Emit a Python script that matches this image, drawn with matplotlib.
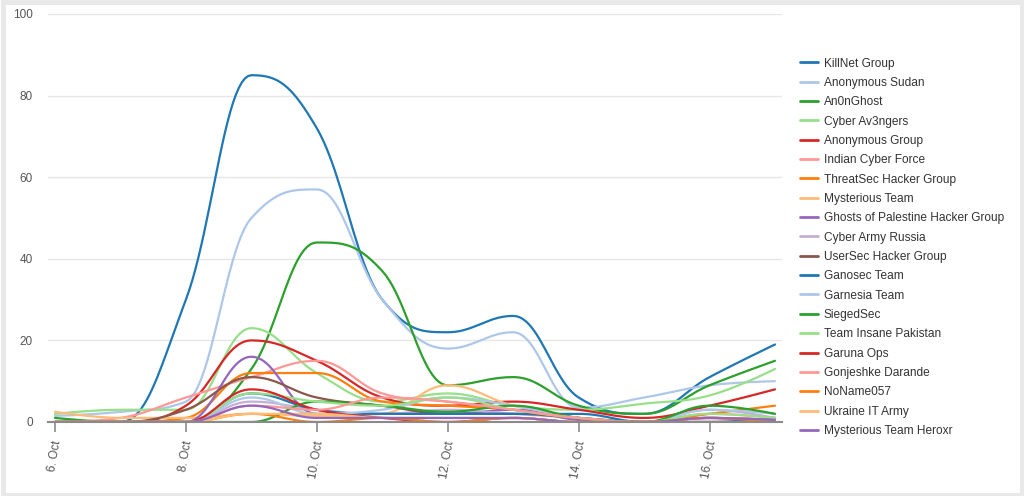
import datetime as dt

import matplotlib
matplotlib.use("Agg")
import matplotlib.dates as mdates
import matplotlib.pyplot as plt
import numpy as np
from matplotlib.patches import Rectangle

plt.rcParams["font.family"] = ["Liberation Sans", "DejaVu Sans"]

# daily counts, 6. Oct .. 17. Oct
days = [dt.datetime(2023, 10, d) for d in range(6, 18)]

groups = [
    "KillNet Group", "Anonymous Sudan", "An0nGhost", "Cyber Av3ngers",
    "Anonymous Group", "Indian Cyber Force", "ThreatSec Hacker Group",
    "Mysterious Team", "Ghosts of Palestine Hacker Group", "Cyber Army Russia",
    "UserSec Hacker Group", "Ganosec Team", "Garnesia Team", "SiegedSec",
    "Team Insane Pakistan", "Garuna Ops", "Gonjeshke Darande", "NoName057",
    "Ukraine IT Army", "Mysterious Team Heroxr",
]

killnet = [0, 0, 30, 85, 72, 30, 22, 26, 6, 2, 11, 19]
anon_sudan = [1.5, 2.5, 5, 50, 57, 30, 18, 22, 3.5, 6, 9, 10]
anonghost = [1, 0, 0, 13, 44, 37, 9, 11, 4, 2, 9, 15]
cyber_av3ngers = [2, 3, 3, 23, 12, 5, 7, 4, 3, 4.5, 6.5, 13]
anon_group = [0, 0, 4, 20, 15, 6, 4, 5, 3, 1, 4, 8]
indian_cyber = [0, 1, 6, 11, 15, 7, 5, 3, 1, 0, 2, 1]
threatsec = [0, 0, 1, 12, 12, 5, 4, 3, 1, 0, 2, 4]
mysterious = [2.5, 1, 1, 2, 1.5, 2, 9, 4, 1, 0, 1, 0.5]
ghosts_pal = [0, 0, 0, 16, 2, 2, 2, 3, 0.5, 0, 1, 0]
army_russia = [0, 0, 0, 5, 3, 2, 3, 2, 1, 0, 3, 1]
usersec = [0, 0, 3, 11, 6, 4, 2, 2, 1, 0, 1, 0.5]
ganosec = [0, 0, 0, 7, 3, 2, 2, 2, 2, 0, 0, 1]
garnesia = [0, 0, 0, 6, 2, 3, 6, 4, 1, 0, 3, 2]
siegedsec = [0, 0, 0, 0, 5, 4, 2.5, 4, 1, 0, 4, 2]
insane_pk = [0, 0, 0, 7, 5, 4, 6, 3, 1, 0, 2, 1]
garuna = [0, 0, 0, 8, 3, 1, 0, 1, 0, 0, 0, 0]
gonjeshke = [0, 0, 0, 4, 3, 6, 5, 3, 1, 0, 1, 0.5]
noname = [0, 0, 0, 2, 0, 1, 0, 1, 0, 0, 1, 0]
ukraine_it = [0, 0, 0, 2, 2, 1, 1, 1, 0, 0, 0, 0]
heroxr = [0, 0, 0, 4, 1, 1, 1, 1, 0, 0, 1, 0.5]

series = [
    killnet, anon_sudan, anonghost, cyber_av3ngers, anon_group, indian_cyber,
    threatsec, mysterious, ghosts_pal, army_russia, usersec, ganosec, garnesia,
    siegedsec, insane_pk, garuna, gonjeshke, noname, ukraine_it, heroxr,
]

palette = ["#1f77b4", "#aec7e8", "#2ca02c", "#98df8a", "#d62728", "#ff9896",
           "#ff7f0e", "#ffbb78", "#9467bd", "#c5b0d5", "#8c564b"]


def spline(xs, ys, smoothing=1.5, n=24):
    # highcharts-style spline: bezier segments with clamped control points
    xs = np.asarray(xs, dtype=float)
    ys = np.asarray(ys, dtype=float)
    m = len(xs)
    lc = [(xs[i], ys[i]) for i in range(m)]
    rc = [(xs[i], ys[i]) for i in range(m)]
    d = smoothing + 1
    for i in range(1, m - 1):
        px, py = xs[i], ys[i]
        lx, ly = xs[i - 1], ys[i - 1]
        nx, ny = xs[i + 1], ys[i + 1]
        lcx = (smoothing * px + lx) / d
        lcy = (smoothing * py + ly) / d
        rcx = (smoothing * px + nx) / d
        rcy = (smoothing * py + ny) / d
        if rcx != lcx:
            corr = (rcy - lcy) * (rcx - px) / (rcx - lcx) + py - rcy
            lcy += corr
            rcy += corr
        if lcy > ly and lcy > py:
            lcy = max(ly, py)
            rcy = 2 * py - lcy
        elif lcy < ly and lcy < py:
            lcy = min(ly, py)
            rcy = 2 * py - lcy
        if rcy > ny and rcy > py:
            rcy = max(ny, py)
            lcy = 2 * py - rcy
        elif rcy < ny and rcy < py:
            rcy = min(ny, py)
            lcy = 2 * py - rcy
        lc[i] = (lcx, lcy)
        rc[i] = (rcx, rcy)
    t = np.linspace(0, 1, n)[:, None]
    out = []
    for i in range(m - 1):
        p0 = np.array([xs[i], ys[i]])
        p1 = np.array(rc[i])
        p2 = np.array(lc[i + 1])
        p3 = np.array([xs[i + 1], ys[i + 1]])
        seg = ((1 - t) ** 3) * p0 + 3 * ((1 - t) ** 2) * t * p1 + 3 * (1 - t) * t ** 2 * p2 + t ** 3 * p3
        out.append(seg if i == 0 else seg[1:])
    pts = np.vstack(out)
    return pts[:, 0], pts[:, 1]


fig = plt.figure(figsize=(10.24, 4.96), dpi=100, facecolor="white")
# light grey frame round the chart
fig.patches.append(Rectangle((2.5 / 1024, 1.5 / 496), 1019 / 1024, 493 / 496,
                             transform=fig.transFigure, facecolor="none",
                             edgecolor="#e9e9e9", lw=3.6, zorder=-5))

ax = fig.add_axes([48 / 1024, 74 / 496, 734 / 1024, 408 / 496])
ax.set_facecolor("none")

xnum = mdates.date2num(days)
for i, (name, vals) in enumerate(zip(groups, series)):
    sx, sy = spline(xnum, vals)
    ax.plot(sx, sy, color=palette[i % len(palette)], lw=1.6, label=name,
            solid_capstyle="round")

pad = 7 / 65.3
ax.set_xlim(xnum[0] - pad, xnum[-1] + pad)
ax.set_ylim(0, 100)
ax.set_yticks(range(0, 101, 20))
ax.xaxis.set_major_locator(mdates.DayLocator(bymonthday=[6, 8, 10, 12, 14, 16]))
ax.xaxis.set_major_formatter(mdates.DateFormatter("%-d. %b"))

ax.grid(axis="y", color="#e6e6e6", lw=1)
ax.set_axisbelow(True)
for s in ["top", "right", "left"]:
    ax.spines[s].set_visible(False)
ax.spines["bottom"].set_color("#8a8a8a")
ax.spines["bottom"].set_linewidth(1.5)
ax.tick_params(axis="y", length=0, pad=11, labelsize=8.5, labelcolor="#555555")
ax.tick_params(axis="x", length=7, width=1.2, color="#8a8a8a", pad=6,
               labelsize=8.5, labelcolor="#555555")
for lab in ax.get_xticklabels():
    lab.set_rotation(80)
    lab.set_ha("center")

leg = ax.legend(loc="upper left", bbox_to_anchor=(800 / 1024, 1 - 57.5 / 496),
                bbox_transform=fig.transFigure, frameon=False, fontsize=8.6,
                handlelength=1.5, handletextpad=0.5, labelspacing=0.615,
                borderaxespad=0, borderpad=0)
for t in leg.get_texts():
    t.set_color("#333333")
for h in leg.get_lines():
    h.set_linewidth(2)

fig.savefig("out.png", dpi=100, facecolor=fig.get_facecolor())
